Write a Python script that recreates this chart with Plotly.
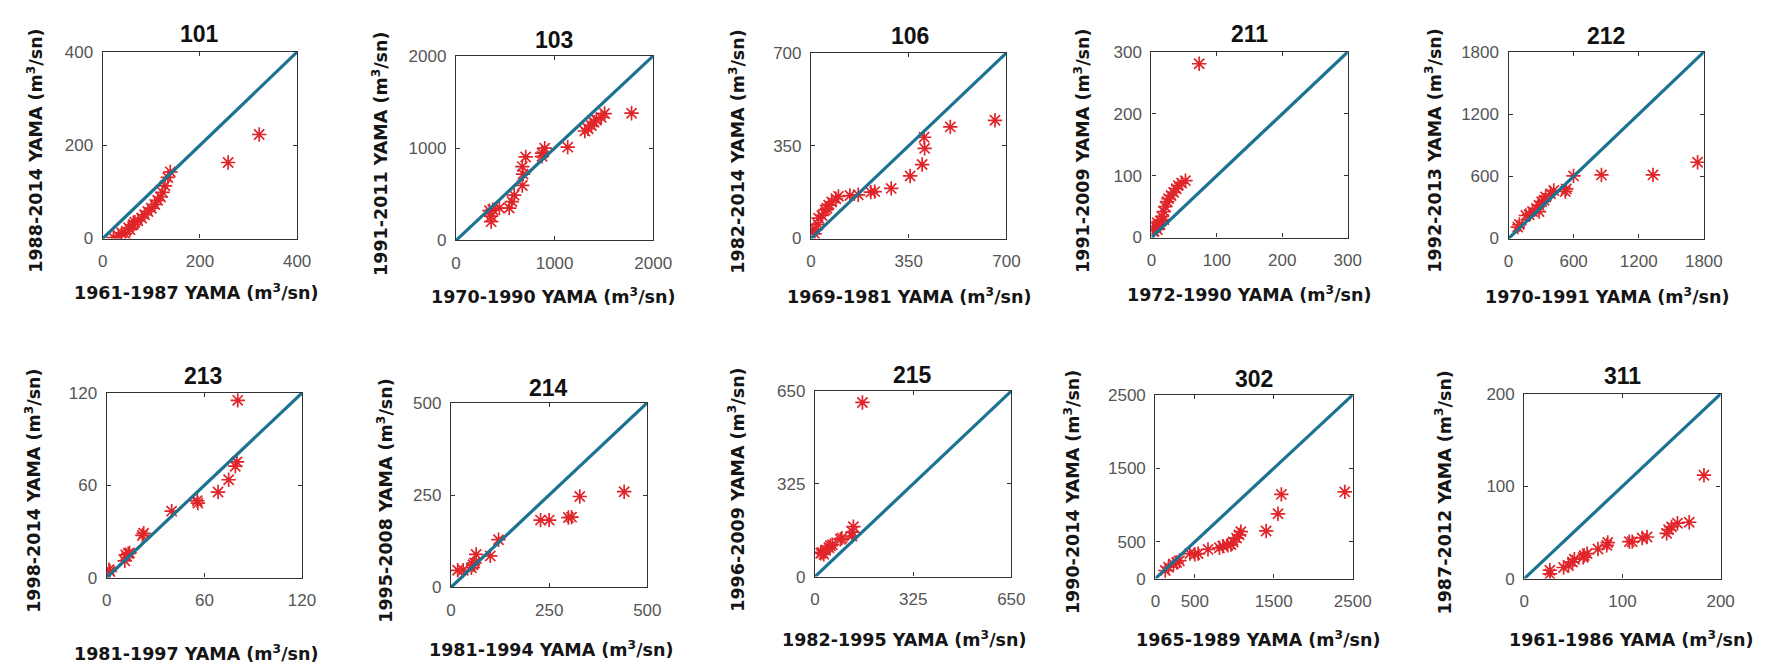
import plotly.graph_objects as go

W, H = 1778, 668

stations = ["101", "103", "106", "211", "212", "213", "214", "215", "302", "311"]

x_titles = ["1961-1987", "1970-1990", "1969-1981", "1972-1990", "1970-1991",
            "1981-1997", "1981-1994", "1982-1995", "1965-1989", "1961-1986"]
y_titles = ["1988-2014", "1991-2011", "1982-2014", "1991-2009", "1992-2013",
            "1998-2014", "1995-2008", "1996-2009", "1990-2014", "1987-2012"]

axis_max = [400, 2000, 700, 300, 1800, 120, 500, 650, 2500, 200]
tick_vals = [[0, 200, 400], [0, 1000, 2000], [0, 350, 700], [0, 100, 200, 300],
             [0, 600, 1200, 1800], [0, 60, 120], [0, 250, 500], [0, 325, 650],
             [0, 500, 1500, 2500], [0, 100, 200]]

# station 101
x_101 = [22, 32, 39, 46, 53, 56, 63, 66, 72, 80, 86, 93, 100, 107, 113, 119, 123, 128, 134, 139, 258, 322]
y_101 = [2, 6, 12, 10, 23, 19, 30, 35, 38, 44, 51, 58, 65, 73, 82, 89, 99, 113, 131, 143, 163, 223]
# station 103
x_103 = [357, 357, 340, 373, 440, 540, 567, 590, 673, 680, 673, 707, 873, 873, 900, 1133,
         1307, 1340, 1373, 1400, 1423, 1473, 1507, 1780]
y_103 = [204, 263, 323, 333, 351, 351, 421, 491, 596, 719, 800, 905, 912, 947, 1000, 1011,
         1186, 1211, 1246, 1281, 1305, 1333, 1375, 1379]
# station 106
x_106 = [6, 13, 15, 25, 27, 39, 51, 57, 63, 74, 89, 98, 139, 169, 214, 228, 287, 355, 398, 407, 405, 499, 659]
y_106 = [31, 18, 34, 53, 77, 87, 108, 114, 126, 138, 150, 159, 162, 165, 175, 177, 189, 236, 279, 340, 382, 421, 446]
# station 211
x_211 = [2.5, 4, 6, 9, 9, 13, 14, 16, 19, 19, 21, 24, 26, 30, 34, 38, 41, 46, 52, 73]
y_211 = [16, 10, 18, 13, 24, 21, 27, 34, 29, 42, 50, 58, 63, 68, 73, 79, 84, 88, 92, 281]
# station 212
x_212 = [85, 100, 160, 190, 221, 257, 281, 281, 305, 327, 342, 387, 417, 523, 532, 599, 856, 1331, 1742]
y_212 = [110, 135, 222, 229, 260, 291, 260, 322, 354, 369, 401, 432, 463, 454, 479, 604, 614, 614, 736]
# station 213
x_213 = [1.4, 2, 11.1, 11.7, 13.2, 14, 21.9, 22.7, 39.9, 55.6, 56, 68.4, 74.9, 79, 80, 80.5]
y_213 = [5.1, 4, 10.9, 14.7, 15.6, 16, 27.4, 28.8, 43.2, 49.9, 48.4, 55.6, 63.6, 72.4, 75.2, 115.2]
# station 214
x_214 = [17, 31, 52, 56, 60, 64, 100, 121, 228, 250, 299, 307, 328, 441]
y_214 = [46, 46, 53, 61, 66, 89, 85, 129, 182, 182, 189, 190, 246, 259]
# station 215
x_215 = [19, 24, 29, 35, 46, 51, 57, 84, 89, 122, 124, 127, 157]
y_215 = [82, 85, 78, 93, 101, 108, 112, 131, 135, 142, 156, 175, 610]
# station 302
x_302 = [125, 167, 229, 271, 304, 437, 500, 542, 667, 812, 854, 917, 958, 987, 1029, 1062, 1083,
         1404, 1554, 1596, 2400]
y_302 = [110, 154, 198, 220, 243, 340, 331, 340, 397, 419, 441, 454, 463, 498, 551, 595, 639,
         648, 882, 1146, 1180]
# station 311
x_311 = [26, 26, 40, 45, 49, 51, 60, 61, 64, 75, 84, 85, 107, 110, 120, 125, 145, 147, 150, 156, 168, 183]
y_311 = [5, 9, 12, 14, 18, 21, 23, 25, 27, 32, 36, 39, 40, 40, 44, 45, 49, 53, 56, 60, 61, 112]

xs = [x_101, x_103, x_106, x_211, x_212, x_213, x_214, x_215, x_302, x_311]
ys = [y_101, y_103, y_106, y_211, y_212, y_213, y_214, y_215, y_302, y_311]

# layout geometry (pixels): box left, right, top, bottom
boxes = [(91, 288, 36, 228), (449, 649, 40, 230), (809, 1007, 37, 228),
         (1154, 1353, 36, 227), (1516, 1714, 36, 228),
         (95, 293, 387, 577), (444, 643, 397, 587), (813, 1012, 385, 576),
         (1158, 1358, 389, 578), (1532, 1731, 388, 578)]
title_pos = [(189, 18), (548, 24), (909, 20), (1253, 18), (1615, 20),
             (193, 370), (543, 382), (912, 368), (1258, 373), (1632, 370)]
xtitle_pos = [(185, 283), (547, 287), (908, 287), (1253, 285), (1616, 287),
              (185, 655), (545, 650), (903, 640), (1262, 640), (1640, 640)]
ytitle_x = [22, 372, 733, 1083, 1440, 20, 377, 733, 1073, 1450]

fig = go.Figure()
annotations = []
unit = " YAMA (m<sup>3</sup>/sn)"
title_font = dict(family="DejaVu Sans", size=17.5, color="#151515", weight="bold")

for i in range(10):
    k = "" if i == 0 else str(i + 1)
    L, R, T, B = boxes[i]
    m = axis_max[i]
    fig.add_trace(go.Scatter(
        x=xs[i], y=ys[i], mode="markers", xaxis="x" + k, yaxis="y" + k,
        marker=dict(symbol="asterisk-open", size=12, color="#e0252a",
                    line=dict(color="#e0252a", width=1.7)),
        showlegend=False, hoverinfo="x+y"))
    fig.add_trace(go.Scatter(
        x=[0, m], y=[0, m], mode="lines", xaxis="x" + k, yaxis="y" + k,
        line=dict(color="#1b7291", width=3.2), showlegend=False, hoverinfo="skip"))
    common = dict(range=[0, m], tickvals=tick_vals[i], showgrid=False, zeroline=False,
                  showline=True, mirror="ticks", linecolor="#333333", linewidth=1.3,
                  ticks="inside", ticklen=4, tickcolor="#333333", tickwidth=1,
                  tickfont=dict(family="Liberation Sans", size=17, color="#555555"))
    fig.layout["xaxis" + k] = dict(common, domain=[L / W, R / W], anchor="y" + k,
                                   ticklabelstandoff=7)
    fig.layout["yaxis" + k] = dict(common, domain=[1 - B / H, 1 - T / H], anchor="x" + k,
                                   ticklabelstandoff=5)
    tx, ty = title_pos[i]
    annotations.append(dict(text=stations[i], x=tx / W, y=1 - ty / H, xref="paper", yref="paper",
                            showarrow=False, xanchor="center", yanchor="middle",
                            font=dict(family="Liberation Sans", size=23, color="#111111", weight="bold")))
    xx, xy = xtitle_pos[i]
    annotations.append(dict(text=x_titles[i] + unit, x=xx / W, y=1 - xy / H, xref="paper", yref="paper",
                            showarrow=False, xanchor="center", yanchor="middle", font=title_font))
    yc = (T + B) / 2 + 6
    annotations.append(dict(text=y_titles[i] + unit, x=ytitle_x[i] / W, y=1 - yc / H,
                            xref="paper", yref="paper", textangle=-90,
                            showarrow=False, xanchor="center", yanchor="middle", font=title_font))

fig.update_layout(width=W, height=H, margin=dict(l=0, r=0, t=0, b=0),
                  paper_bgcolor="white", plot_bgcolor="white", annotations=annotations)

fig.write_html("out.html")
